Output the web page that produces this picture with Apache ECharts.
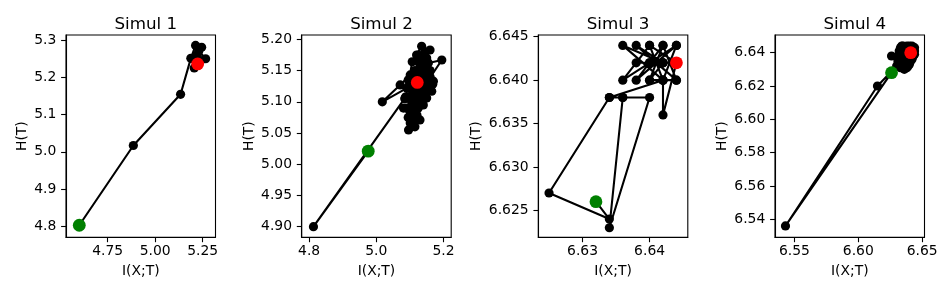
<!DOCTYPE html>
<html><head><meta charset="utf-8">
<script src="https://cdn.jsdelivr.net/npm/echarts@6/dist/echarts.min.js"></script>
<style>html,body{margin:0;padding:0;background:#fff}#c{width:951px;height:295px}</style>
</head><body><div id="c"></div>
<script>
// ---------- data ----------
const titles = ['Simul 1', 'Simul 2', 'Simul 3', 'Simul 4'];
const xName = 'I(X;T)';
const yName = 'H(T)';

// trajectories [I(X;T), H(T)] in order; first = start (green), last = end (red)
const path1 = [
  [4.600, 4.802], [4.885, 5.017], [5.134, 5.155], [5.188, 5.252], [5.213, 5.287],
  [5.245, 5.282], [5.222, 5.262], [5.206, 5.226], [5.266, 5.251], [5.230, 5.272],
  [5.205, 5.250], [5.240, 5.246], [5.224, 5.237]
];
const path2 = [
  [4.976, 5.021], [4.813, 4.900], [5.088, 5.108], [5.107, 5.164], [5.135, 5.189],
  [5.150, 5.170], [5.120, 5.175], [5.160, 5.183], [5.130, 5.159], [5.195, 5.167],
  [5.100, 5.090], [5.150, 5.149], [5.101, 5.143], [5.071, 5.127], [5.018, 5.100],
  [5.091, 5.122], [5.165, 5.117], [5.086, 5.106], [5.150, 5.106], [5.081, 5.090],
  [5.140, 5.095], [5.121, 5.079], [5.096, 5.055], [5.130, 5.071], [5.101, 5.066],
  [5.110, 5.071], [5.140, 5.120], [5.170, 5.133], [5.120, 5.140], [5.100, 5.085],
  [5.155, 5.140], [5.115, 5.110], [5.145, 5.165], [5.125, 5.100], [5.160, 5.125],
  [5.105, 5.120], [5.130, 5.150], [5.112, 5.095], [5.138, 5.135],
  [5.115, 5.060], [5.095, 5.075], [5.125, 5.090], [5.110, 5.077], [5.090, 5.090],
  [5.135, 5.105], [5.105, 5.100], [5.130, 5.118], [5.085, 5.105], [5.150, 5.122],
  [5.110, 5.130], [5.155, 5.135], [5.095, 5.135], [5.140, 5.150], [5.118, 5.120],
  [5.160, 5.150], [5.125, 5.165], [5.145, 5.180], [5.115, 5.150], [5.155, 5.162],
  [5.105, 5.110], [5.168, 5.128], [5.128, 5.130], [5.140, 5.175], [5.120, 5.105],
  [5.145, 5.110], [5.100, 5.128], [5.135, 5.140], [5.150, 5.155], [5.115, 5.088],
  [5.125, 5.175], [5.105, 5.080], [5.130, 5.110], [5.160, 5.140], [5.122, 5.131]
];
const path3 = [
  [6.632, 6.626], [6.634, 6.624], [6.625, 6.627], [6.634, 6.638], [6.636, 6.638],
  [6.634, 6.623], [6.640, 6.638], [6.636, 6.638], [6.634, 6.638], [6.642, 6.640],
  [6.636, 6.644], [6.642, 6.642], [6.638, 6.642], [6.640, 6.644], [6.636, 6.640],
  [6.640, 6.642], [6.644, 6.644], [6.638, 6.640], [6.642, 6.644], [6.640, 6.640],
  [6.644, 6.640], [6.638, 6.644], [6.642, 6.642], [6.640, 6.642], [6.644, 6.644],
  [6.642, 6.640], [6.640, 6.644], [6.644, 6.642], [6.642, 6.642], [6.640, 6.640],
  [6.642, 6.644], [6.644, 6.640], [6.642, 6.640], [6.642, 6.636], [6.644, 6.642]
];
const path4 = [
  [6.626, 6.628], [6.543, 6.536], [6.615, 6.620], [6.630, 6.632], [6.636, 6.640],
  [6.633, 6.643], [6.640, 6.644], [6.626, 6.638], [6.635, 6.636], [6.642, 6.642],
  [6.638, 6.631], [6.634, 6.644], [6.643, 6.640], [6.632, 6.637], [6.639, 6.643],
  [6.637, 6.634], [6.641, 6.638], [6.635, 6.642], [6.643, 6.643], [6.636, 6.630],
  [6.640, 6.636], [6.633, 6.639], [6.642, 6.644], [6.638, 6.638], [6.644, 6.641],
  [6.634, 6.633], [6.639, 6.640], [6.641, 6.643], [6.637, 6.637], [6.643, 6.638],
  [6.631, 6.635], [6.636, 6.643], [6.640, 6.633], [6.632, 6.641], [6.644, 6.643],
  [6.638, 6.635], [6.634, 6.638], [6.642, 6.636], [6.636, 6.634], [6.640, 6.641],
  [6.633, 6.631], [6.644, 6.639], [6.637, 6.641], [6.641, 6.635], [6.635, 6.644],
  [6.639, 6.632], [6.642, 6.640], [6.634, 6.640], [6.638, 6.644], [6.641, 6.640]
];
const paths = [path1, path2, path3, path4];

// tick labels
const xTicks1 = ['4.75', '5.00', '5.25'];
const yTicks1 = ['4.8', '4.9', '5.0', '5.1', '5.2', '5.3'];
const xTicks2 = ['4.8', '5.0', '5.2'];
const yTicks2 = ['4.90', '4.95', '5.00', '5.05', '5.10', '5.15', '5.20'];
const xTicks3 = ['6.63', '6.64'];
const yTicks3 = ['6.625', '6.630', '6.635', '6.640', '6.645'];
const xTicks4 = ['6.55', '6.60', '6.65'];
const yTicks4 = ['6.54', '6.56', '6.58', '6.60', '6.62', '6.64'];
const xTicks = [xTicks1, xTicks2, xTicks3, xTicks4];
const yTicks = [yTicks1, yTicks2, yTicks3, yTicks4];

// axis limits
const xLim = [[4.530, 5.318], [4.778, 5.223], [6.6234, 6.6457], [6.5348, 6.6518]];
const yLim = [[4.7695, 5.315], [4.883, 5.207], [6.6219, 6.6452], [6.5292, 6.6506]];

// ---------- layout ----------
const FONT = 'DejaVu Sans';
const gridLeft = [66, 301.7, 538.3, 775];
const gridTop = 35, gridW = 149.5, gridH = 202.3;
const yNameGap = [37, 45, 55, 46];

const option = {
  animation: false,
  backgroundColor: '#fff',
  title: [], grid: [], xAxis: [], yAxis: [], series: []
};

function fmtMap(labels) {
  const m = {};
  labels.forEach(s => { m[parseFloat(s).toFixed(6)] = s; });
  return v => m[Number(v).toFixed(6)] ?? '';
}

for (let i = 0; i < 4; i++) {
  option.title.push({
    text: titles[i],
    left: gridLeft[i] + gridW / 2,
    textAlign: 'center',
    top: 11,
    textStyle: { fontFamily: FONT, fontSize: 16.7, fontWeight: 'normal', color: '#000' }
  });
  option.grid.push({
    left: gridLeft[i], top: gridTop, width: gridW, height: gridH,
    show: true, borderColor: '#000', borderWidth: 1.1, backgroundColor: 'transparent',
    containLabel: false
  });
  const xv = xTicks[i].map(parseFloat), yv = yTicks[i].map(parseFloat);
  option.xAxis.push({
    type: 'value', gridIndex: i, min: xLim[i][0], max: xLim[i][1],
    name: xName, nameLocation: 'middle', nameGap: 27,
    nameTextStyle: { fontFamily: FONT, fontSize: 13.9, color: '#000' },
    axisLine: { show: true, onZero: false, lineStyle: { color: '#000', width: 1.1 } },
    axisTick: { show: true, inside: false, length: 4.9, customValues: xv, lineStyle: { color: '#000', width: 1.1 } },
    axisLabel: { show: true, customValues: xv, margin: 7, formatter: fmtMap(xTicks[i]),
      fontFamily: FONT, fontSize: 13.9, color: '#000' },
    splitLine: { show: false }
  });
  option.yAxis.push({
    type: 'value', gridIndex: i, min: yLim[i][0], max: yLim[i][1],
    name: yName, nameLocation: 'middle', nameGap: yNameGap[i],
    nameTextStyle: { fontFamily: FONT, fontSize: 13.9, color: '#000' },
    axisLine: { show: true, onZero: false, lineStyle: { color: '#000', width: 1.1 } },
    axisTick: { show: true, inside: false, length: 4.9, customValues: yv, lineStyle: { color: '#000', width: 1.1 } },
    axisLabel: { show: true, customValues: yv, margin: 9.7, formatter: fmtMap(yTicks[i]),
      fontFamily: FONT, fontSize: 13.9, color: '#000' },
    splitLine: { show: false }
  });
  const p = paths[i];
  option.series.push({
    type: 'line', xAxisIndex: i, yAxisIndex: i, data: p,
    symbol: 'circle', symbolSize: 9.2, showSymbol: true, showAllSymbol: true,
    lineStyle: { color: '#000', width: 2.1 }, itemStyle: { color: '#000', opacity: 1 },
    silent: true, z: 2, emphasis: { disabled: true }
  });
  option.series.push({
    type: 'scatter', xAxisIndex: i, yAxisIndex: i, data: [p[0]],
    symbol: 'circle', symbolSize: 12.8, itemStyle: { color: '#008000', opacity: 1 },
    silent: true, z: 3, emphasis: { disabled: true }
  });
  option.series.push({
    type: 'scatter', xAxisIndex: i, yAxisIndex: i, data: [p[p.length - 1]],
    symbol: 'circle', symbolSize: 12.8, itemStyle: { color: '#ff0000', opacity: 1 },
    silent: true, z: 4, emphasis: { disabled: true }
  });
}

const chart = echarts.init(document.getElementById('c'), null, { renderer: 'canvas' });
chart.setOption(option);
</script>
</body></html>
